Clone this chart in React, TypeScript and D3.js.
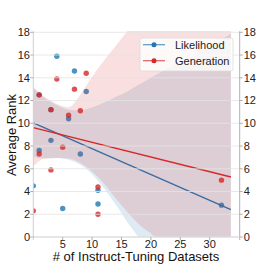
import React, { useEffect, useRef } from 'react';
import * as d3 from 'd3';

// number of instruct-tuning datasets per model (shared by both series)
const datasetCounts = [0, 1, 1, 3, 3, 4, 5, 6, 7, 8, 9, 11, 11, 32];
const likelihoodRank = [4.5, 7.6, 12.5, 8.5, 11.2, 15.9, 2.5, 10.4, 14.6, 7.3, 12.8, 4.1, 2.9, 2.8];
const generationRank = [2.3, 7.3, 12.5, 5.9, 11.2, 13.9, 7.9, 10.7, 13.0, 11.1, 14.4, 4.4, 2.0, 5.0];

// confidence bands
const bandX = [0, 2, 4, 6, 8, 10, 12, 14, 16, 18, 20, 24, 28, 33.6];
const likelihoodLow = [7.05, 6.9, 6.95, 6.8, 6.35, 5.5, 4.3, 2.85, 1.3, -0.1, -1.6, -4.5, -7.5, -11.5];
const likelihoodHigh = [13.1, 12.2, 11.6, 11.2, 11.15, 11.4, 11.8, 12.3, 12.8, 13.4, 14.0, 15.1, 16.1, 17.9];
const generationLow = [6.2, 6.9, 6.95, 6.9, 6.5, 5.75, 4.7, 3.4, 2.2, 1.1, 0.3, -1.5, -3.5, -6.5];
const generationHigh = [13.2, 12.3, 11.7, 11.4, 12.5, 14.1, 15.5, 16.8, 18.1, 19.3, 20.5, 23, 25.5, 29];

const xTicks = [5, 10, 15, 20, 25, 30];
const yTicks = [0, 2, 4, 6, 8, 10, 12, 14, 16, 18];

const series = [
  { name: 'Likelihood', color: '#1f77b4', ranks: likelihoodRank, low: likelihoodLow, high: likelihoodHigh },
  { name: 'Generation', color: '#d62728', ranks: generationRank, low: generationLow, high: generationHigh },
];

const fitEnd = 33.6;
const font = '"Liberation Sans", Arial, sans-serif';

const App = () => {
  const ref = useRef<SVGSVGElement>(null);

  useEffect(() => {
    const svg = d3.select(ref.current);
    svg.selectAll('*').remove();

    const left = 33.3, right = 239.7, top = 32.3, bottom = 237;
    const x = d3.scaleLinear().domain([0, 35.1]).range([left, right]);
    const y = d3.scaleLinear().domain([0, 18]).range([bottom, top]);

    svg.append('defs').append('clipPath').attr('id', 'plot-clip')
      .append('rect')
      .attr('x', left).attr('y', 31)
      .attr('width', right - left).attr('height', bottom - 31);

    const plot = svg.append('g').attr('clip-path', 'url(#plot-clip)');

    series.forEach(s => {
      // band
      const area = d3.area<number>()
        .x((d, i) => x(bandX[i]))
        .y0((d, i) => y(s.low[i]))
        .y1((d, i) => y(s.high[i]))
        .curve(d3.curveMonotoneX);
      plot.append('path')
        .attr('d', area(bandX))
        .attr('fill', s.color)
        .attr('fill-opacity', 0.15);

      // points
      plot.selectAll(null)
        .data(s.ranks)
        .enter().append('circle')
        .attr('cx', (d, i) => x(datasetCounts[i]))
        .attr('cy', d => y(d))
        .attr('r', 2.7)
        .attr('fill', s.color)
        .attr('fill-opacity', 0.8);

      // least squares fit
      const mx = d3.mean(datasetCounts) as number;
      const my = d3.mean(s.ranks) as number;
      let sxy = 0, sxx = 0;
      datasetCounts.forEach((v, i) => {
        sxy += (v - mx) * (s.ranks[i] - my);
        sxx += (v - mx) * (v - mx);
      });
      const slope = sxy / sxx;
      const intercept = my - slope * mx;
      plot.append('line')
        .attr('x1', x(0)).attr('y1', y(intercept))
        .attr('x2', x(fitEnd)).attr('y2', y(intercept + slope * fitEnd))
        .attr('stroke', s.color)
        .attr('stroke-width', 1.3);
    });

    // grid
    svg.append('g').selectAll('line')
      .data(yTicks)
      .enter().append('line')
      .attr('x1', left).attr('x2', right)
      .attr('y1', d => y(d)).attr('y2', d => y(d))
      .attr('stroke', '#e4e4e4')
      .attr('stroke-opacity', 0.8)
      .attr('stroke-width', 1);

    const axisColor = '#b0b0b0';

    // left axis
    svg.append('line')
      .attr('x1', left).attr('x2', left).attr('y1', top - 1).attr('y2', bottom + 3)
      .attr('stroke', '#cfcfcf');
    const yl = svg.append('g');
    yl.selectAll('line').data(yTicks).enter().append('line')
      .attr('x1', left - 3).attr('x2', left)
      .attr('y1', d => y(d)).attr('y2', d => y(d))
      .attr('stroke', axisColor);
    yl.selectAll('text').data(yTicks).enter().append('text')
      .attr('x', 30).attr('y', d => y(d)).attr('dy', '0.36em')
      .attr('text-anchor', 'end')
      .attr('font-family', font).attr('font-size', 11).attr('fill', '#222')
      .text(d => d);

    // right axis
    svg.append('line')
      .attr('x1', right).attr('x2', right).attr('y1', top - 1).attr('y2', bottom + 3)
      .attr('stroke', axisColor);
    const yr = svg.append('g');
    yr.selectAll('line').data(yTicks).enter().append('line')
      .attr('x1', right).attr('x2', right + 3)
      .attr('y1', d => y(d)).attr('y2', d => y(d))
      .attr('stroke', axisColor);
    yr.selectAll('text').data(yTicks).enter().append('text')
      .attr('x', right + 4).attr('y', d => y(d)).attr('dy', '0.36em')
      .attr('font-family', font).attr('font-size', 11).attr('fill', '#222')
      .text(d => d);

    // bottom axis
    svg.append('line')
      .attr('x1', left).attr('x2', right).attr('y1', bottom).attr('y2', bottom)
      .attr('stroke', '#d8d8d8');
    const xa = svg.append('g');
    xa.selectAll('line').data(xTicks).enter().append('line')
      .attr('x1', d => x(d)).attr('x2', d => x(d))
      .attr('y1', bottom).attr('y2', bottom + 3)
      .attr('stroke', axisColor);
    xa.selectAll('text').data(xTicks).enter().append('text')
      .attr('x', d => x(d)).attr('y', 247.5)
      .attr('text-anchor', 'middle')
      .attr('font-family', font).attr('font-size', 11).attr('fill', '#222')
      .text(d => d);

    // axis titles
    svg.append('text')
      .attr('x', 136).attr('y', 260.5)
      .attr('text-anchor', 'middle')
      .attr('font-family', font).attr('font-size', 13).attr('fill', '#111')
      .text('# of Instruct-Tuning Datasets');
    svg.append('text')
      .attr('transform', 'translate(16,135) rotate(-90)')
      .attr('text-anchor', 'middle')
      .attr('font-family', font).attr('font-size', 13).attr('fill', '#111')
      .text('Average Rank');

    // legend
    const legend = svg.append('g').attr('transform', 'translate(140,38)');
    legend.append('rect')
      .attr('width', 93).attr('height', 33).attr('rx', 2)
      .attr('fill', '#fff').attr('fill-opacity', 0.8)
      .attr('stroke', '#dcdcdc').attr('stroke-width', 0.8);
    series.forEach((s, i) => {
      const ly = 6.7 + i * 16;
      legend.append('line')
        .attr('x1', 3).attr('x2', 25).attr('y1', ly).attr('y2', ly)
        .attr('stroke', s.color).attr('stroke-opacity', 0.75).attr('stroke-width', 1.2);
      legend.append('circle')
        .attr('cx', 14).attr('cy', ly).attr('r', 2.5)
        .attr('fill', s.color);
      legend.append('text')
        .attr('x', 35).attr('y', ly).attr('dy', '0.36em')
        .attr('font-family', font).attr('font-size', 11).attr('fill', '#222')
        .text(s.name);
    });
  }, []);

  return (
    <svg ref={ref} width={266} height={266}
      style={{ position: 'absolute', left: 0, top: 0, background: '#fff' }} />
  );
};

export default App;
